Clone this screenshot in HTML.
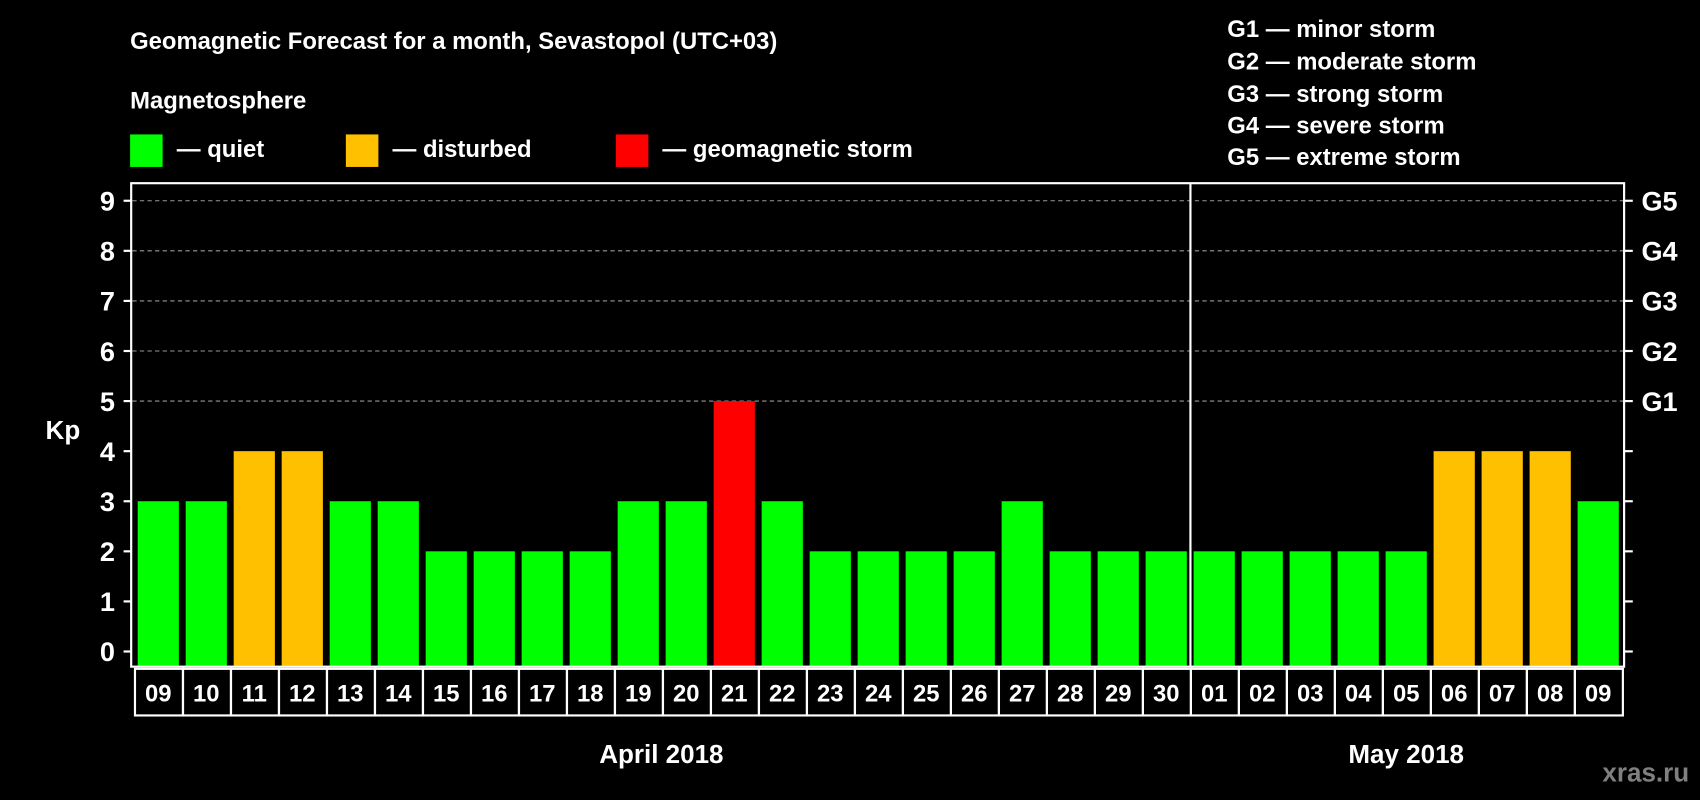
<!DOCTYPE html>
<html><head><meta charset="utf-8"><style>
html,body{margin:0;padding:0;background:#000;}
svg{display:block;font-family:"Liberation Sans",Arial,sans-serif;font-weight:bold;}
</style></head><body>
<svg id="chart" width="1700" height="800" viewBox="0 0 1568 738" preserveAspectRatio="none" xmlns="http://www.w3.org/2000/svg">
<rect x="0" y="0" width="1568" height="738" fill="#000"/>
<text x="120" y="45" fill="#fff" font-size="22">Geomagnetic Forecast for a month, Sevastopol (UTC+03)</text>
<text x="120" y="100" fill="#fff" font-size="22">Magnetosphere</text>
<g><rect x="120" y="124" width="30" height="30" fill="#00ff00"/><text x="163" y="145" fill="#fff" font-size="22">— quiet</text></g>
<g><rect x="319" y="124" width="30" height="30" fill="#ffc000"/><text x="362" y="145" fill="#fff" font-size="22">— disturbed</text></g>
<g><rect x="568" y="124" width="30" height="30" fill="#ff0000"/><text x="611" y="145" fill="#fff" font-size="22">— geomagnetic storm</text></g>
<g fill="#fff" font-size="22">
<text x="1132" y="34">G1 — minor storm</text>
<text x="1132" y="64">G2 — moderate storm</text>
<text x="1132" y="94">G3 — strong storm</text>
<text x="1132" y="123">G4 — severe storm</text>
<text x="1132" y="152">G5 — extreme storm</text>
</g>
<text x="58" y="405" fill="#fff" font-size="24" text-anchor="middle">Kp</text>
<g id="grid"></g>
<g id="bars"></g>
<rect x="121" y="169" width="1377" height="446" fill="none" stroke="#fff" stroke-width="2"/>
<line x1="1098" y1="169" x2="1098" y2="615" stroke="#fff" stroke-width="2"/>
<g id="axes"></g>
<g id="dates"></g>
<text x="610" y="704" fill="#fff" font-size="24" text-anchor="middle">April 2018</text>
<text x="1297" y="704" fill="#fff" font-size="24" text-anchor="middle">May 2018</text>
<text x="1558" y="721" fill="#808080" font-size="24" text-anchor="end">xras.ru</text>
</svg>
<script>
const days = ["09","10","11","12","13","14","15","16","17","18","19","20","21","22","23","24","25","26","27","28","29","30","01","02","03","04","05","06","07","08","09"];
const kpValues = [3,3,4,4,3,3,2,2,2,2,3,3,5,3,2,2,2,2,3,2,2,2,2,2,2,2,2,4,4,4,3];
const yTicks = [0,1,2,3,4,5,6,7,8,9];
const gLabels = ["G1","G2","G3","G4","G5"];
const NS="http://www.w3.org/2000/svg";
function yScale(v){return 601 - v*46.2;}
function xSlot(i){return 127 + i*44.27;}
function mk(tag,attrs,parent){const e=document.createElementNS(NS,tag);for(const k in attrs)e.setAttribute(k,attrs[k]);parent.appendChild(e);return e;}
const grid=document.getElementById('grid'),bars=document.getElementById('bars'),axes=document.getElementById('axes'),dates=document.getElementById('dates');
yTicks.forEach(t=>{
  const y=yScale(t);
  if(t>=5){const g=mk('line',{x1:122,y1:y,x2:1497,y2:y,stroke:'#999','stroke-dasharray':'4,3','stroke-width':1},grid);
  
  }
  mk('line',{x1:114,y1:y,x2:121,y2:y,stroke:'#fff','stroke-width':2},axes);
  mk('line',{x1:1498,y1:y,x2:1506,y2:y,stroke:'#fff','stroke-width':2},axes);
  const l=mk('text',{x:106,y:y+9,fill:'#fff','font-size':25,'text-anchor':'end'},axes);
  l.textContent=t;
  
  
});
gLabels.forEach((g,i)=>{
  const y=yScale(5+i);
  const l=mk('text',{x:1514,y:y+9,fill:'#fff','font-size':25},axes);
  l.textContent=g;
  
  
});
kpValues.forEach((v,i)=>{
  const x=xSlot(i);
  const col=v>=5?'#ff0000':(v>=4?'#ffc000':'#00ff00');
  const b=mk('rect',{x:x,y:yScale(v),width:38,height:614-yScale(v),fill:col},bars);
  
  
  const c=mk('rect',{x:x-2.5,y:617,width:44.27,height:43,fill:'none',stroke:'#fff','stroke-width':2},dates);
  
  
  const t=mk('text',{x:x+19,y:647,fill:'#fff','font-size':22,'text-anchor':'middle'},dates);
  t.textContent=days[i];
  
  
});
</script>
</body></html>
